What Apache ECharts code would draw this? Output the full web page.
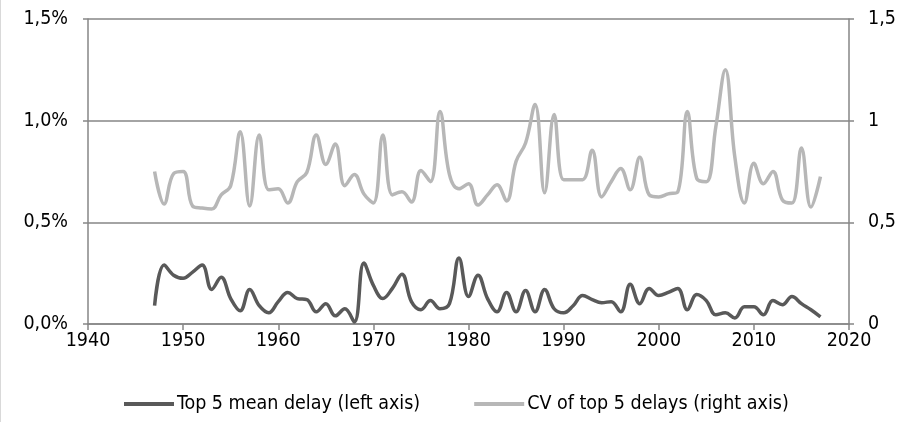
<!DOCTYPE html>
<html>
<head>
<meta charset="utf-8">
<script src="https://cdn.jsdelivr.net/npm/echarts@6/dist/echarts.min.js"></script>
<style>
  html, body { margin: 0; padding: 0; background: #fff; }
  #chart { width: 907px; height: 422px; border-left: 1px solid #d9d9d9; }
</style>
</head>
<body>
<div id="chart"></div>
<script>
const years = []
for (let y = 1947; y <= 2017; y++) years.push(y)

// Top 5 mean delay, in percent (left axis)
const meanDelay = [
  0.09, 0.29, 0.24, 0.225, 0.255, 0.29, 0.17, 0.23, 0.125, 0.065,
  0.17, 0.09, 0.055, 0.11, 0.155, 0.125, 0.12, 0.06, 0.10, 0.04,
  0.075, 0.01, 0.30, 0.19, 0.125, 0.175, 0.245, 0.11, 0.07, 0.115,
  0.075, 0.10, 0.325, 0.135, 0.24, 0.125, 0.06, 0.155, 0.06, 0.165,
  0.06, 0.17, 0.075, 0.055, 0.09, 0.14, 0.12, 0.105, 0.11, 0.06,
  0.195, 0.10, 0.175, 0.14, 0.155, 0.175, 0.07, 0.145, 0.115, 0.045,
  0.055, 0.03, 0.085, 0.085, 0.045, 0.115, 0.095, 0.135, 0.10, 0.07,
  0.035
]

// CV of top 5 delays (right axis)
const cvDelay = [
  0.75, 0.59, 0.74, 0.75, 0.58, 0.57, 0.565, 0.635, 0.68, 0.945,
  0.58, 0.93, 0.66, 0.665, 0.595, 0.70, 0.745, 0.93, 0.785, 0.885,
  0.68, 0.735, 0.64, 0.595, 0.93, 0.635, 0.65, 0.60, 0.755, 0.70,
  1.045, 0.735, 0.665, 0.69, 0.585, 0.635, 0.685, 0.605, 0.80, 0.89,
  1.08, 0.645, 1.03, 0.71, 0.71, 0.71, 0.855, 0.625, 0.70, 0.765,
  0.66, 0.82, 0.635, 0.625, 0.64, 0.65, 1.045, 0.715, 0.70, 0.97,
  1.25, 0.82, 0.595, 0.79, 0.69, 0.75, 0.61, 0.595, 0.865, 0.575,
  0.725
]

const seriesNames = ['Top 5 mean delay (left axis)', 'CV of top 5 delays (right axis)']

const axisColor = '#868686'
const font = 'DejaVu Sans Condensed'

const chart = echarts.init(document.getElementById('chart'))
chart.setOption({
  animation: false,
  textStyle: { fontFamily: font },
  grid: { left: 87, right: 59, top: 19, bottom: 98 },
  legend: {
    left: 118,
    top: 389,
    itemWidth: 50,
    itemHeight: 4,
    itemGap: 54,
    icon: 'rect',
    textStyle: { fontSize: 19.5, color: '#000', fontFamily: font, padding: [0, 0, 0, -2] },
    data: seriesNames
  },
  xAxis: {
    type: 'value',
    min: 1940,
    max: 2020,
    interval: 10,
    axisLine: { show: true, lineStyle: { color: axisColor, width: 1.5 } },
    axisTick: { show: true, length: 6, lineStyle: { color: axisColor, width: 1.5 } },
    axisLabel: { fontSize: 19.5, color: '#000', margin: 7, formatter: v => String(v) },
    splitLine: { show: false }
  },
  yAxis: [
    {
      type: 'value',
      min: 0,
      max: 1.5,
      interval: 0.5,
      axisLine: { show: true, lineStyle: { color: axisColor, width: 1.5 } },
      axisTick: { show: true, length: 5, lineStyle: { color: axisColor, width: 1.5 } },
      axisLabel: {
        fontSize: 19.5, color: '#000', margin: 20,
        formatter: v => v.toFixed(1).replace('.', ',') + '%'
      },
      splitLine: { show: true, lineStyle: { color: axisColor, width: 1.5 } }
    },
    {
      type: 'value',
      min: 0,
      max: 1.5,
      interval: 0.5,
      position: 'right',
      axisLine: { show: true, lineStyle: { color: axisColor, width: 1.5 } },
      axisTick: { show: true, length: 5, lineStyle: { color: axisColor, width: 1.5 } },
      axisLabel: {
        fontSize: 19.5, color: '#000', margin: 19,
        formatter: v => String(v).replace('.', ',')
      },
      splitLine: { show: false }
    }
  ],
  series: [
    {
      name: seriesNames[0],
      type: 'line',
      yAxisIndex: 0,
      smooth: 0.4,
      symbol: 'none',
      color: '#595959',
      lineStyle: { width: 3.5, color: '#595959' },
      data: years.map((y, i) => [y, meanDelay[i]])
    },
    {
      name: seriesNames[1],
      type: 'line',
      yAxisIndex: 1,
      smooth: 0.4,
      symbol: 'none',
      color: '#b7b7b7',
      lineStyle: { width: 3.5, color: '#b7b7b7' },
      data: years.map((y, i) => [y, cvDelay[i]])
    }
  ]
})
</script>
</body>
</html>
